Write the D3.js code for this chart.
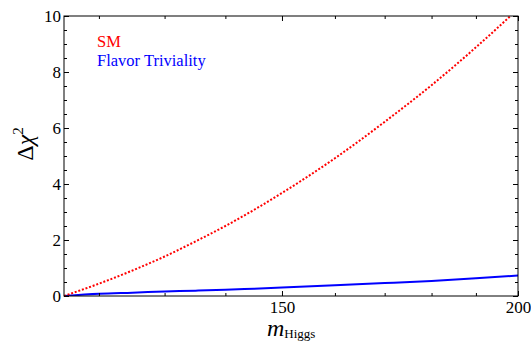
<!DOCTYPE html>
<html><head><meta charset="utf-8">
<script src="https://cdn.jsdelivr.net/npm/d3@7"></script>
<style>
body{margin:0;background:#fff}
svg{display:block}
svg text{font-family:"Liberation Serif","DejaVu Serif","Times New Roman",serif;}
</style>
</head><body>
<svg id="c" width="531" height="346"></svg>
<script>
// Data
const mHiggs  = [115, 120, 125, 130, 135, 140, 145, 150, 160, 170, 180, 190, 200];
const chi2SM  = [0, 0.44, 0.91, 1.41, 1.95, 2.50, 3.08, 3.68, 4.92, 6.22, 7.53, 8.88, 10.25];
const chi2FT  = [0, 0.08, 0.12, 0.16, 0.19, 0.22, 0.26, 0.30, 0.38, 0.46, 0.54, 0.63, 0.73];
const xMajorTicks = [150, 200];
const xMinorTicks = [120, 130, 140, 160, 170, 180, 190];
const yMajorTicks = [0, 2, 4, 6, 8, 10];
const yMinorTicks = [0.5, 1, 1.5, 2.5, 3, 3.5, 4.5, 5, 5.5, 6.5, 7, 7.5, 8.5, 9, 9.5];
const legendLabels = ["SM", "Flavor Triviality"];
const colors = ["#ff0000", "#0000ff"];

const FONT = '"Liberation Serif","DejaVu Serif","Times New Roman",serif';
const L = 64, R = 518, T = 16, B = 296;
const svg = d3.select("#c").attr("font-family", FONT);
const x = d3.scaleLog().domain([115, 200]).range([L, R]);
const y = d3.scaleLinear().domain([0, 10]).range([B, T]);

svg.append("defs").append("clipPath").attr("id", "clip")
  .append("rect").attr("x", L).attr("y", T).attr("width", R - L).attr("height", B - T);

const line = d3.line().x(d => x(d[0])).y(d => y(d[1])).curve(d3.curveMonotoneX);
const g = svg.append("g").attr("clip-path", "url(#clip)");
g.append("path").datum(d3.zip(mHiggs, chi2FT)).attr("d", line)
  .attr("fill", "none").attr("stroke", colors[1]).attr("stroke-width", 2);
g.append("path").datum(d3.zip(mHiggs, chi2SM)).attr("d", line)
  .attr("fill", "none").attr("stroke", colors[0]).attr("stroke-width", 2)
  .attr("stroke-dasharray", "2,1.8");

// Frame
svg.append("rect").attr("x", L).attr("y", T).attr("width", R - L).attr("height", B - T)
  .attr("fill", "none").attr("stroke", "#000").attr("stroke-width", 1);

const mk = (axis, tr, size) => {
  const a = svg.append("g").attr("transform", tr).call(axis);
  a.attr("font-family", FONT);
  a.select(".domain").remove();
  a.selectAll("line").attr("stroke", "#000");
  a.selectAll("text").attr("font-size", size).attr("fill", "#000").style("font-family", FONT);
  return a;
};
const xb = mk(d3.axisBottom(x).tickValues(xMajorTicks).tickSize(-5).tickFormat(d3.format("d")), `translate(0,${B})`, 17);
xb.selectAll("text").attr("y", 17).attr("dy", null);
mk(d3.axisBottom(x).tickValues(xMinorTicks).tickSize(-3).tickFormat(""), `translate(0,${B})`, 17);
mk(d3.axisTop(x).tickValues(xMajorTicks).tickSize(-5).tickFormat(""), `translate(0,${T})`, 17);
mk(d3.axisTop(x).tickValues(xMinorTicks).tickSize(-3).tickFormat(""), `translate(0,${T})`, 17);
mk(d3.axisLeft(y).tickValues(yMajorTicks).tickSize(-5).tickPadding(3).tickFormat(d3.format("d")), `translate(${L},0)`, 17);
mk(d3.axisLeft(y).tickValues(yMinorTicks).tickSize(-3).tickFormat(""), `translate(${L},0)`, 17);
mk(d3.axisRight(y).tickValues(yMajorTicks).tickSize(-5).tickFormat(""), `translate(${R},0)`, 17);
mk(d3.axisRight(y).tickValues(yMinorTicks).tickSize(-3).tickFormat(""), `translate(${R},0)`, 17);

// Legend
legendLabels.forEach((t, i) => {
  svg.append("text").attr("x", 97).attr("y", 47 + i * 19).attr("fill", colors[i])
    .style("font-family", FONT).attr("font-size", 16.5).text(t);
});

// Axis titles
const xl = svg.append("text").attr("x", 267).attr("y", 336).attr("fill", "#000").style("font-family", FONT);
xl.append("tspan").attr("font-style", "italic").attr("font-size", 24).text("m");
xl.append("tspan").attr("font-size", 13).attr("dy", 2).text("Higgs");

const yl = svg.append("text").attr("transform", "translate(33,144) rotate(-90)")
  .attr("text-anchor", "middle").attr("fill", "#000").style("font-family", FONT);
yl.append("tspan").attr("font-size", 24).text("Δ");
yl.append("tspan").attr("font-size", 24).attr("font-style", "italic").text("χ");
yl.append("tspan").attr("font-size", 15).attr("dy", -10).text("2");
</script>
</body></html>
